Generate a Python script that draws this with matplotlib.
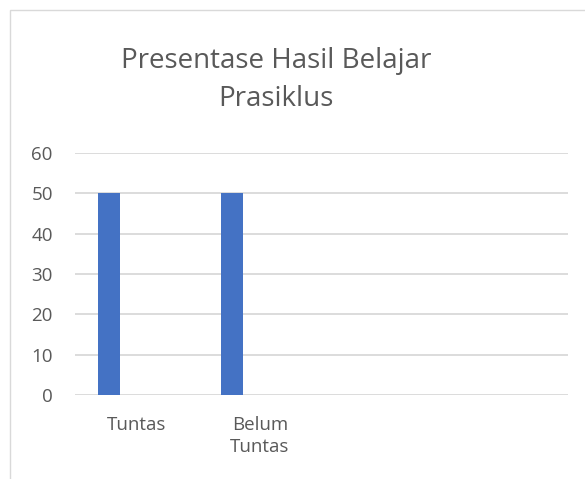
import matplotlib
matplotlib.use("Agg")
import matplotlib.pyplot as plt
import numpy as np
from matplotlib.patches import Rectangle

categories = ["Tuntas", "Belum\nTuntas", "", ""]
values = [50, 50, None, None]
yticks = [0, 10, 20, 30, 40, 50, 60]
title = "Presentase Hasil Belajar\nPrasiklus"

plt.rcParams['font.family'] = ['Open Sans', 'DejaVu Sans']
TXT = "#595959"
GRID = "#D9D9D9"
BAR = "#4472C4"

fig = plt.figure(figsize=(5.85, 4.79), dpi=100)
fig.patch.set_facecolor("white")
# chart border (light gray) starting at top-left
fig.add_artist(Rectangle((10/585, -0.1), 1.2, 1 - 10/479 + 0.1, transform=fig.transFigure,
                         fill=False, edgecolor=GRID, linewidth=1.0))

ax = fig.add_axes([75/585, 1 - 395/479, (568 - 75)/585, (395 - 153)/479])
x = np.arange(len(categories))
offset = -0.224
width = 0.18
for xi, v in zip(x, values):
    if v is not None:
        ax.bar(xi + offset, v, width=width, color=BAR, zorder=3)

ax.set_xlim(-0.5, len(categories) - 0.5)
ax.set_ylim(0, 60)
ax.set_yticks(yticks)
ax.set_yticklabels([str(t) for t in yticks], fontsize=13.5, color=TXT)
ax.set_xticks(x)
ax.set_xticklabels(categories, fontsize=13.5, color=TXT, linespacing=1.3, va="top")
ax.tick_params(axis='y', length=0, pad=16)
ax.tick_params(axis='x', length=0, pad=15)
for s in ax.spines.values():
    s.set_visible(False)
ax.yaxis.grid(True, color=GRID, linewidth=1.3, zorder=0)
ax.set_axisbelow(True)

fig.text(276/585, 1 - 80/479, title, ha="center", va="center", fontsize=20,
         color=TXT, linespacing=1.5)

fig.savefig("out.png", dpi=100, facecolor="white")
